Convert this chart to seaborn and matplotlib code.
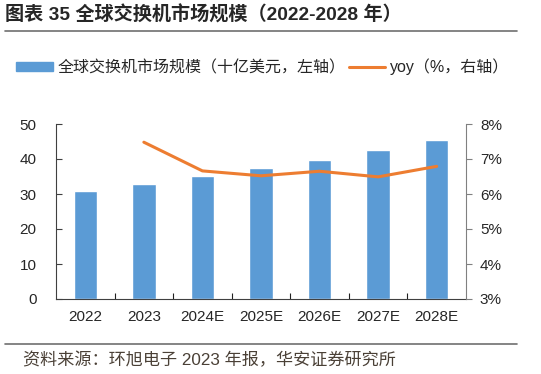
import numpy as np
import pandas as pd
import matplotlib
matplotlib.use("Agg")
import matplotlib.pyplot as plt
import seaborn as sns
from matplotlib.patches import Patch
from matplotlib.lines import Line2D
from matplotlib.ticker import FuncFormatter, FixedLocator

# data
years = ["2022", "2023", "2024E", "2025E", "2026E", "2027E", "2028E"]
market = [30.8, 33.0, 35.2, 37.3, 39.8, 42.6, 45.3]   # 十亿美元
yoy_years = ["2023", "2024E", "2025E", "2026E", "2027E", "2028E"]
yoy = [7.48, 6.66, 6.52, 6.65, 6.49, 6.79]           # %

bar_color = "#5B9BD5"
line_color = "#ED7D31"

sns.set_style("white")
plt.rcParams["font.family"] = ["Liberation Sans", "Noto Sans CJK SC"]
plt.rcParams["axes.unicode_minus"] = False

fig = plt.figure(figsize=(5.41, 3.74), dpi=100)
ax = fig.add_axes([56 / 541, 1 - 299 / 374, 410 / 541, 175 / 374])

df = pd.DataFrame({"year": years, "market": market})
sns.barplot(data=df, x="year", y="market", color=bar_color, width=0.4,
            saturation=1, ax=ax)
ax.set_xlim(-0.5, len(years) - 0.5)
ax.set_ylim(0, 50)
ax.set_yticks(np.arange(0, 51, 10))
ax.set_xlabel("")
ax.set_ylabel("")

ax2 = ax.twinx()
df2 = pd.DataFrame({"year": yoy_years, "yoy": yoy})
sns.lineplot(data=df2, x="year", y="yoy", color=line_color, linewidth=2.2,
             ax=ax2, sort=False)
ax2.set_ylim(3, 8)
ax2.set_yticks(np.arange(3, 8.1, 1))
ax2.yaxis.set_major_formatter(FuncFormatter(lambda v, p: f"{v:.0f}%"))
ax2.set_ylabel("")
ax2.set_xlabel("")
ax.set_xlim(-0.5, len(years) - 0.5)

# spines
for a in (ax, ax2):
    a.spines["top"].set_visible(False)
ax.spines["left"].set_color("#404040")
ax.spines["bottom"].set_color("#404040")
ax.spines["right"].set_visible(False)
ax2.spines["left"].set_visible(False)
ax2.spines["bottom"].set_visible(False)
ax2.spines["right"].set_color("#808080")

# ticks
ax.tick_params(axis="y", direction="in", length=4, width=0.8, color="#404040",
               labelsize=11, pad=14, left=True)
ax.tick_params(axis="x", length=0, labelsize=11, pad=8)
ax.xaxis.set_minor_locator(FixedLocator(np.arange(0.5, len(years) - 0.5, 1)))
ax.tick_params(axis="x", which="minor", direction="in", length=4, width=0.8,
               color="#202020", bottom=True)
ax2.tick_params(axis="y", direction="out", length=4, width=0.8, color="#808080",
                labelsize=11, pad=6, right=True)

# legend
handles = [Patch(color=bar_color), Line2D([], [], color=line_color, linewidth=2.2)]
labels = ["全球交换机市场规模（十亿美元，左轴）", "yoy（%，右轴）"]
fig.legend(handles, labels, loc="center left", bbox_to_anchor=(16 / 541, 1 - 67 / 374),
           ncol=2, frameon=False, fontsize=11.5, handlelength=2.3, handleheight=0.5,
           handletextpad=0.3, columnspacing=0.2, borderpad=0, borderaxespad=0)

# title, rules and source
fig.text(5 / 541, 1 - 15 / 374, "图表 35 全球交换机市场规模（2022-2028 年）",
         fontsize=13.8, fontweight="bold", va="center", ha="left")
fig.add_artist(Line2D([5 / 541, 517 / 541], [1 - 31 / 374, 1 - 31 / 374],
                      color="#707070", linewidth=1.2))
fig.add_artist(Line2D([5 / 541, 517 / 541], [1 - 344 / 374, 1 - 344 / 374],
                      color="#707070", linewidth=1.2))
fig.text(23 / 541, 1 - 360 / 374, "资料来源：环旭电子 2023 年报，华安证券研究所",
         fontsize=12.3, color="#4a4036", va="center", ha="left")

fig.savefig("out.png", dpi=100)
